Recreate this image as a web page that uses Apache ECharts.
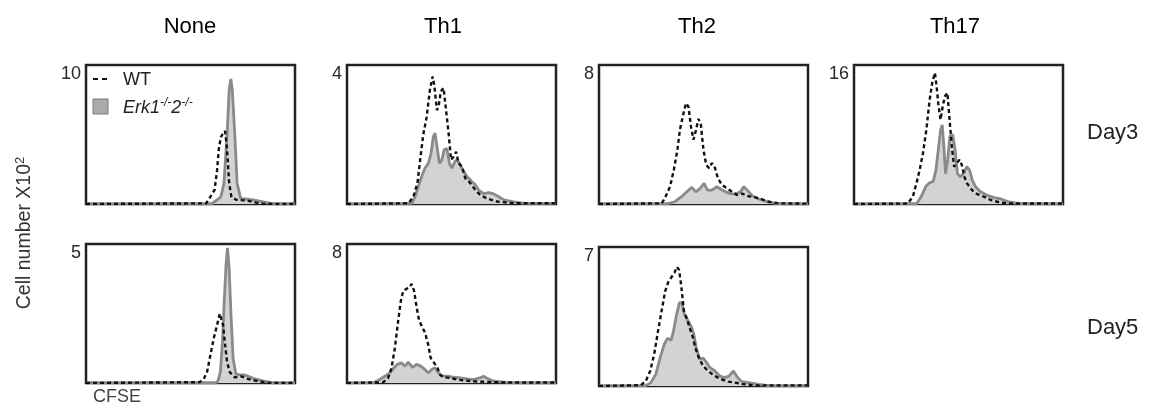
<!DOCTYPE html>
<html>
<head>
<meta charset="utf-8">
<script src="https://cdn.jsdelivr.net/npm/echarts@6/dist/echarts.min.js"></script>
<style>
html,body{margin:0;padding:0;background:#fff;}
#chart{width:1149px;height:408px;}
</style>
</head>
<body>
<div id="chart"></div>
<script>
// Column and row labels
const columns = ['None', 'Th1', 'Th2', 'Th17'];
const rows = ['Day3', 'Day5'];
// y max (x10^2 cells) per panel, in panel order
const panelMax = [10, 4, 8, 16, 5, 8, 7];
const panelCol = [0, 1, 2, 3, 0, 1, 2];
const panelRow = [0, 0, 0, 0, 1, 1, 1];

// CFSE histograms: [CFSE (0-100 relative), cell number x10^2]
const none_d3_wt = [[0,0],[57.5,0.05],[59,0.4],[61.5,1],[62.7,2.4],[63.5,3.9],[64.5,4.8],[65.6,5.1],[66.5,5.25],[67.2,4.4],[67.8,3.2],[68.5,1.5],[69.6,0.5],[72,0.3],[77,0.25],[81.5,0.1],[85,0],[100,0]];
const none_d3_ko = [[0,0],[60,0],[64.5,0.5],[66,1.5],[67.5,5],[68.5,8.2],[69.3,9.0],[70,8.2],[71.2,5],[72.3,1.5],[74,0.4],[80,0.3],[86.5,0.1],[90,0],[100,0]];

const th1_d3_wt = [[0,0],[29.3,0.02],[31.7,0.2],[33.7,0.6],[35,1.27],[36.5,2.0],[38.1,2.5],[39.7,3.3],[41,3.67],[41.8,3.4],[43,2.7],[43.8,2.8],[44.9,3.24],[46.2,3.34],[47.4,2.7],[48.6,2.04],[49.8,1.27],[51,1.36],[52.2,1.5],[53.4,1.17],[55,1.08],[56.6,0.74],[59,0.6],[61.4,0.4],[63.8,0.26],[67,0.16],[71.8,0.07],[76.6,0.04],[80,0.02],[100,0.02]];
const th1_d3_ko = [[0,0],[31,0.02],[32.5,0.2],[34.1,0.5],[35.7,0.79],[37.3,1.03],[38.9,1.17],[40.2,1.46],[41.3,1.94],[42.1,2.04],[43.3,1.56],[44.2,1.17],[45.4,1.27],[46.5,1.56],[47.8,1.6],[49,1.17],[50.2,1.03],[51.6,1.22],[52.6,1.27],[53.8,1.17],[55.4,0.98],[57.4,0.79],[59.8,0.64],[61.4,0.55],[63,0.4],[65.4,0.3],[67.8,0.33],[70.2,0.29],[72.6,0.21],[75,0.12],[79.8,0.06],[85,0.02],[100,0.02]];

const th2_d3_wt = [[0,0],[30,0.04],[31.5,0.33],[34,1.0],[35.8,1.96],[37.5,3.1],[38.7,4.27],[40.4,5.2],[41.6,5.8],[42.8,5.6],[44,4.46],[45.2,3.7],[46.3,4.2],[47.6,4.9],[48.7,4.6],[50,3.1],[51.3,2.25],[52.7,2.06],[54,2.35],[55.3,2.15],[56.9,1.48],[58.8,1.1],[61.2,0.9],[63.7,0.7],[66,0.52],[68.5,0.6],[70.9,0.46],[73.3,0.42],[76.5,0.33],[81.3,0.13],[86.2,0.04],[100,0.02]];
const th2_d3_ko = [[0,0],[33,0.02],[36.3,0.13],[39.5,0.42],[42,0.7],[44.4,0.96],[46.3,0.7],[48.4,0.9],[50.3,1.19],[51.9,0.8],[54,0.8],[56.4,1.0],[58.3,0.85],[60.5,0.7],[63,0.6],[65.3,0.58],[67.7,0.7],[69.3,1.0],[70.9,0.8],[73.3,0.48],[76.5,0.29],[80.5,0.13],[84.6,0.04],[90,0],[100,0]];

const th17_d3_wt = [[0,0],[25.7,0.05],[28.2,0.85],[30.1,2.6],[31.4,3.9],[33,5.85],[34.6,8.5],[36.2,12],[37.4,13.9],[38.7,15.1],[39.5,13.6],[40.3,11.6],[41.4,9.7],[42.4,11.2],[43.5,12.4],[44.7,12.8],[45.6,10.1],[46.8,6.6],[47.9,4.3],[49.2,4.7],[50.5,5.1],[51.6,4.5],[52.8,3.15],[54,2.4],[56.5,1.6],[58.9,1.15],[62.1,0.85],[65.4,0.46],[70.2,0.15],[75,0.05],[100,0.05]];
const th17_d3_ko = [[0,0],[30,0.05],[32.2,0.85],[34.3,2.0],[35.9,2.4],[37.9,2.6],[39.2,3.9],[40.3,6.2],[41.4,8.5],[42.2,9.1],[43,6.6],[43.8,3.5],[44.8,5.1],[45.9,7.8],[47.2,8.0],[48.4,6.2],[49.5,3.5],[50.8,3.15],[52.4,3.5],[54,4.3],[55.3,3.9],[56.5,2.8],[58.1,2.0],[60.5,1.4],[63.8,1.0],[67,0.73],[70.2,0.58],[73.5,0.27],[78.3,0.08],[85,0],[100,0]];

const none_d5_wt = [[0,0],[54.3,0.03],[56.3,0.14],[57.9,0.39],[59.5,1.0],[61.1,1.6],[62.7,2.08],[64,2.5],[64.8,2.5],[65.6,2.08],[66.6,1.35],[67.5,0.75],[68.8,0.39],[71.2,0.2],[74.4,0.24],[77.7,0.14],[83.3,0.05],[88,0],[100,0]];
const none_d5_ko = [[0,0],[62,0],[63.2,0.08],[64.3,0.4],[65.3,1.47],[66.2,3.04],[67,4.25],[67.7,4.86],[68.5,4.1],[69.4,2.43],[70.4,0.87],[71.7,0.33],[73.6,0.29],[76,0.29],[80,0.17],[84.9,0.07],[90,0],[100,0]];

const th1_d5_wt = [[0,0],[17.3,0.04],[19.7,0.29],[21.3,0.87],[22.9,2.0],[24.5,3.6],[25.8,4.75],[26.9,5.3],[28.2,5.4],[29.8,5.5],[30.9,5.7],[32.1,5.3],[33.3,4.36],[34.5,3.6],[35.7,3.3],[37.3,2.9],[38.9,2.2],[40,1.45],[41.7,1.16],[43.3,0.87],[44.6,0.45],[46.5,0.33],[49.4,0.29],[52.6,0.2],[55.8,0.15],[60.6,0.1],[67,0.06],[75,0.03],[100,0.03]];
const th1_d5_ko = [[0,0],[12.5,0.02],[15.7,0.2],[18.1,0.39],[20.5,0.58],[22.4,0.87],[24,1.07],[26.1,1.16],[27.7,0.97],[29.3,1.2],[31.4,0.9],[33.3,1.07],[35.3,0.97],[37.3,0.78],[38.9,0.58],[40.5,0.78],[42.1,0.87],[43.8,0.58],[45.8,0.39],[48.6,0.39],[51,0.33],[54.2,0.29],[57.4,0.23],[60.6,0.2],[63.5,0.29],[65.4,0.39],[67.3,0.25],[70.2,0.1],[76.6,0.04],[82,0],[100,0]];

const th2_d5_wt = [[0,0],[20,0.04],[22.4,0.25],[24.5,0.76],[26.4,1.6],[28.3,2.8],[30,3.8],[31.6,4.75],[33.2,5.25],[34.8,5.5],[36.1,5.7],[37.2,6.0],[38.3,5.85],[39.3,5.1],[40.6,3.8],[42,3.4],[43.3,2.96],[44.9,2.46],[46,1.95],[47.7,1.44],[49.8,1.0],[52.2,0.76],[55.4,0.5],[58.6,0.34],[61.8,0.22],[65,0.17],[69.9,0.08],[75,0.03],[100,0.03]];
const th2_d5_ko = [[0,0],[22.4,0.02],[24.8,0.17],[27.2,0.6],[29.3,1.44],[31.2,2.1],[32.8,2.4],[34.5,2.3],[35.7,2.8],[36.9,3.5],[38.5,4.2],[39.6,4.2],[40.9,3.6],[42.5,3.3],[44.1,3.0],[45.4,2.6],[46.5,1.95],[48.1,1.36],[49.8,1.4],[51.4,1.2],[53,0.93],[55.4,0.76],[57.8,0.5],[60.2,0.42],[62.2,0.5],[64.3,0.76],[66.4,0.42],[68.3,0.22],[71.5,0.17],[76.3,0.08],[82,0],[100,0]];

const wtSeries = [none_d3_wt, th1_d3_wt, th2_d3_wt, th17_d3_wt, none_d5_wt, th1_d5_wt, th2_d5_wt];
const koSeries = [none_d3_ko, th1_d3_ko, th2_d3_ko, th17_d3_ko, none_d5_ko, th1_d5_ko, th2_d5_ko];

// layout (pixels)
const colLeft = [86, 347, 599, 854];
const rowTop = [65, 244];
const boxW = 209, boxH = 139;
const FONT = "'Liberation Sans', Arial, Helvetica, sans-serif";

const grids = [], xAxes = [], yAxes = [], series = [];
for (let i = 0; i < panelMax.length; i++) {
  grids.push({
    left: colLeft[panelCol[i]], top: rowTop[panelRow[i]] + (i === 6 ? 3 : 0),
    width: boxW, height: boxH,
    show: true, borderColor: '#222', borderWidth: 2.5, backgroundColor: 'transparent'
  });
  xAxes.push({
    type: 'value', gridIndex: i, min: 0, max: 100,
    axisLine: {show: false}, axisTick: {show: false}, axisLabel: {show: false}, splitLine: {show: false}
  });
  const m = panelMax[i];
  yAxes.push({
    type: 'value', gridIndex: i, min: 0, max: m, interval: m,
    axisLine: {show: false}, axisTick: {show: false}, splitLine: {show: false},
    axisLabel: {
      show: true, margin: 5, verticalAlign: 'top',
      color: '#2a2a2a', fontFamily: FONT, fontSize: 18,
      formatter: v => (v === m ? String(m) : '')
    }
  });
  series.push({
    name: 'Erk1-/-2-/-', type: 'line', xAxisIndex: i, yAxisIndex: i,
    data: koSeries[i], showSymbol: false, smooth: false, clip: true,
    lineStyle: {color: '#8a8a8a', width: 2.8},
    areaStyle: {color: '#d3d3d3', opacity: 1},
    z: 2, silent: true
  });
  series.push({
    name: 'WT', type: 'line', xAxisIndex: i, yAxisIndex: i,
    data: wtSeries[i], showSymbol: false, smooth: false, clip: true,
    lineStyle: {color: '#111', width: 2.4, type: [4, 3]},
    z: 3, silent: true
  });
}

const graphics = [];
// column titles
const colCenters = [190, 443, 697, 955];
columns.forEach((t, k) => graphics.push({
  type: 'text', x: colCenters[k], y: 27,
  style: {text: t, fill: '#000', font: '22px ' + FONT, textAlign: 'center', textVerticalAlign: 'middle'}
}));
// row labels
const rowCenters = [133, 328];
rows.forEach((t, k) => graphics.push({
  type: 'text', x: 1087, y: rowCenters[k],
  style: {text: t, fill: '#222', font: '22px ' + FONT, textAlign: 'left', textVerticalAlign: 'middle'}
}));
// y-axis title
graphics.push({
  type: 'text', x: 25, y: 233, rotation: Math.PI / 2,
  style: {
    text: '{a|Cell number X10}{s|2}',
    rich: {
      a: {fontSize: 19.5, fontFamily: FONT, fill: '#333'},
      s: {fontSize: 13, fontFamily: FONT, fill: '#333', verticalAlign: 'top', padding: [0, 0, 9, 0]}
    },
    textAlign: 'center', textVerticalAlign: 'middle'
  }
});
// x-axis title
graphics.push({
  type: 'text', x: 93, y: 397,
  style: {text: 'CFSE', fill: '#444', font: '18px ' + FONT, textAlign: 'left', textVerticalAlign: 'middle'}
});
// legend inside first panel
graphics.push({
  type: 'line', shape: {x1: 93, y1: 79, x2: 110, y2: 79},
  style: {stroke: '#111', lineWidth: 2.2, lineDash: [5, 4]}
});
graphics.push({
  type: 'text', x: 123, y: 80,
  style: {text: 'WT', fill: '#222', font: '18px ' + FONT, textAlign: 'left', textVerticalAlign: 'middle'}
});
graphics.push({
  type: 'rect', shape: {x: 93, y: 99, width: 15, height: 15},
  style: {fill: '#a9aca9', stroke: '#7a7a7a', lineWidth: 1}
});
graphics.push({
  type: 'text', x: 123, y: 108,
  style: {
    text: '{i|Erk1}{s|-/-}{i|2}{s|-/-}',
    rich: {
      i: {fontSize: 18, fontFamily: FONT, fontStyle: 'italic', fill: '#222'},
      s: {fontSize: 12, fontFamily: FONT, fontStyle: 'italic', fill: '#222', padding: [0, 0, 10, 0]}
    },
    textAlign: 'left', textVerticalAlign: 'middle'
  }
});

const chart = echarts.init(document.getElementById('chart'), null, {renderer: 'canvas'});
chart.setOption({
  animation: false,
  backgroundColor: '#fff',
  grid: grids, xAxis: xAxes, yAxis: yAxes, series: series,
  graphic: graphics
});
</script>
</body>
</html>
